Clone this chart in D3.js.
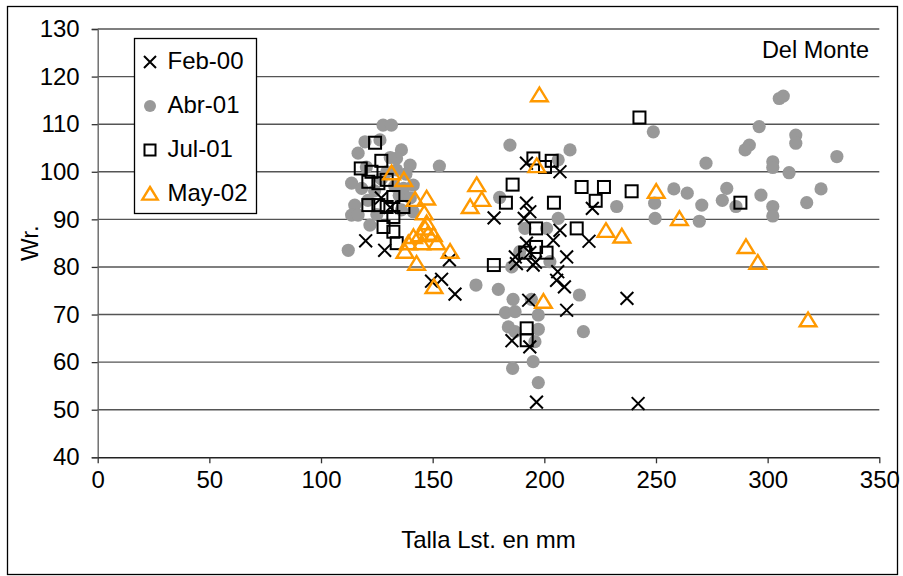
<!DOCTYPE html>
<html>
<head>
<meta charset="utf-8">
<script src="https://cdn.jsdelivr.net/npm/d3@7"></script>
<style>
  html, body { margin: 0; padding: 0; background: #fff; }
  svg { display: block; }
  text { font-family: "Liberation Sans", Arial, sans-serif; fill: #000; }
</style>
</head>
<body>
<svg id="chart" width="903" height="576"></svg>
<script>
// Wr. (relative weight) against standard length, four sampling dates at Del Monte
const feb00 = [
  [120,85.5],[128.5,83.5],[127,94.5],[131,92.5],[177.5,90.3],[157.5,81.5],[154,77.4],[160,74.3],[149.5,77],
  [192,101.8],[207,100],[192,93.4],[193.5,91.6],[191,90.2],[221.5,92.3],[207,87.7],[220,85.4],[204,85.6],
  [192,85],[210,82.1],[187,82.1],[196,81],[193.5,83],[206,79],[187.5,80.7],[195,80.4],[205.5,77.2],
  [209,75.8],[210,70.9],[237,73.4],[193,73],[185.5,64.5],[193.5,63.2],[196.5,51.6],[242,51.3]
];
const abr01 = [
  [127.8,109.8],[131.5,109.8],[119.7,106.3],[126.4,106.7],[116.6,103.9],[136,104.6],[133.8,102.8],[139.9,101.4],
  [153,101.2],[120.3,101],[133.8,100.4],[113.7,97.6],[141.3,97.2],[118.2,96.5],[115.1,93],[113.7,90.9],
  [141.3,91.6],[121.9,88.8],[112.2,83.5],[116.6,90.9],[124,96],[127,98.5],[129.5,100],[131,103],[133,97],
  [135,95],[137,96.5],[125,91],[121,94],[138,99.5],[140,94.5],[136,92],
  [180,94.6],[184.6,105.6],[211.5,104.6],[206.2,102.5],[232.4,92.7],[206.2,90.2],[191.3,88.1],[201,88.1],
  [189,83.2],[202.5,81.1],[185.4,80],[169.4,76.2],[179.4,75.3],[186,73.2],[194.2,73.2],[215.7,74.1],
  [182.6,70.4],[186.9,70.6],[197.3,69.9],[183.9,67.4],[186.9,66.4],[197.3,66.9],[195.8,64.3],[217.5,66.4],
  [195,60.1],[185.8,58.7],[197.3,55.7],
  [248.8,108.4],[272.4,101.8],[258,96.4],[264,95.5],[249.4,93.4],[270.5,93],[279.7,94],[249.6,90.2],
  [269.4,89.6],[305.2,115.4],[307,115.9],[296.2,109.5],[291.8,105.6],[289.9,104.6],[312.6,107.7],
  [312.6,106],[331,103.2],[302.3,102.1],[302.3,100.9],[309.6,99.8],[281.7,96.5],[297,95.1],[323.9,96.4],
  [317.5,93.5],[285.8,92.7],[302.3,92.7],[302.3,90.7]
];
const jul01 = [
  [124.2,106.1],[127,102.3],[117.8,100.7],[122.6,100],[121.2,97.9],[125.7,97.6],[129.4,98.3],[132.4,94.7],
  [121.2,93],[125.7,93],[129.4,92.6],[136.9,92.6],[128,88.4],[132.4,90.5],[132.4,87.4],[133.9,85],
  [177.4,80.4],[242.6,111.4],[195.1,102.8],[203.3,102.3],[200.3,101],[185.8,97.3],[216.7,96.8],[226.7,96.8],
  [239.1,95.9],[223,93.9],[182.8,93.5],[204.3,93.5],[196.3,88.1],[214.5,88.1],[196.3,84.2],[201,83],
  [191.4,83],[192.1,67.1],[192.1,64.6],[287.8,93.5]
];
const may02 = [
  [131.6,99.7],[137.1,98.3],[142.1,94.1],[147.3,94.4],[146.2,91.3],[147.3,89.2],[169.7,97.2],[172,94.1],
  [166.8,92.6],[141.4,86.3],[144.3,86.7],[148,87],[150.3,86.7],[139.1,85],[145,85],[151.8,85],
  [137.6,83.2],[157.8,83.2],[142.8,80.7],[146.6,88.1],[150.6,75.8],[197.8,116.1],[196.6,101.2],
  [227.6,87.6],[234.7,86.4],[199.6,72.7],[250.1,95.8],[260.5,90.1],[290.3,84.2],[295.6,80.9],[318.1,68.8]
];
const seriesNames = ["Feb-00", "Abr-01", "Jul-01", "May-02"];
const xTicks = [0, 50, 100, 150, 200, 250, 300, 350];
const yTicks = [40, 50, 60, 70, 80, 90, 100, 110, 120, 130];
const xTitle = "Talla Lst. en mm";
const yTitle = "Wr.";
const siteLabel = "Del Monte";

const svg = d3.select("#chart");
const plot = { left: 97.7, right: 879.3, top: 29, bottom: 457.3 };
const x = d3.scaleLinear().domain([0, 350]).range([plot.left, plot.right]);
const y = d3.scaleLinear().domain([40, 130]).range([plot.bottom, plot.top]);
const FONT = 24;
const ORANGE = "#ff9900";
const GREY = "#999999";

// outer chart frame
svg.append("rect")
  .attr("x", 7.5).attr("y", 6.5).attr("width", 890).attr("height", 568)
  .attr("fill", "#fff").attr("stroke", "#000").attr("stroke-width", 1.3);

// horizontal gridlines
svg.append("g").selectAll("line").data(yTicks.filter(d => d > 40)).join("line")
  .attr("x1", plot.left).attr("x2", plot.right)
  .attr("y1", d => y(d)).attr("y2", d => y(d))
  .attr("stroke", "#555").attr("stroke-width", 1.4);

// y axis
const yAxis = svg.append("g").attr("transform", `translate(${plot.left},0)`)
  .call(d3.axisLeft(y).tickValues(yTicks).tickSize(6).tickPadding(12));
yAxis.select(".domain").attr("stroke", "#666").attr("stroke-width", 1.4);
yAxis.selectAll(".tick line").attr("stroke", "#333").attr("stroke-width", 1.3);
yAxis.selectAll("text").attr("font-size", FONT).attr("font-family", "Liberation Sans, Arial, sans-serif").attr("fill", "#000");

// x axis
const xAxis = svg.append("g").attr("transform", `translate(0,${plot.bottom})`)
  .call(d3.axisBottom(x).tickValues(xTicks).tickSize(6).tickPadding(8).tickSizeOuter(0));
xAxis.select(".domain").attr("stroke", "#222").attr("stroke-width", 1.4);
xAxis.selectAll(".tick line").attr("stroke", "#333").attr("stroke-width", 1.3);
xAxis.selectAll("text").attr("font-size", FONT).attr("font-family", "Liberation Sans, Arial, sans-serif").attr("fill", "#000");

// axis titles
svg.append("text").attr("x", (plot.left + plot.right) / 2).attr("y", 548)
  .attr("text-anchor", "middle").attr("font-size", FONT).text(xTitle);
svg.append("text").attr("transform", `translate(38,${(plot.top + plot.bottom) / 2}) rotate(-90)`)
  .attr("text-anchor", "middle").attr("font-size", FONT).text(yTitle);

// site label
svg.append("text").attr("x", 869).attr("y", 58).attr("text-anchor", "end")
  .attr("font-size", 23.5).text(siteLabel);

// marker drawers
const cross = (g, s) => g.append("path")
  .attr("d", `M${-s},${-s}L${s},${s}M${-s},${s}L${s},${-s}`)
  .attr("stroke", "#000").attr("stroke-width", 2).attr("fill", "none");
const dot = (g, r) => g.append("circle").attr("r", r).attr("fill", GREY);
const square = (g, s) => g.append("rect").attr("x", -s).attr("y", -s)
  .attr("width", 2 * s).attr("height", 2 * s)
  .attr("fill", "none").attr("stroke", "#000").attr("stroke-width", 2);
const tri = (g, s) => g.append("path")
  .attr("d", `M0,${-s}L${s * 1.1},${s * 0.8}L${-s * 1.1},${s * 0.8}Z`)
  .attr("fill", "none").attr("stroke", ORANGE).attr("stroke-width", 2.4).attr("stroke-linejoin", "miter");

const layers = [
  { data: abr01, draw: g => dot(g, 6.6) },
  { data: feb00, draw: g => cross(g, 6.4) },
  { data: jul01, draw: g => square(g, 6) },
  { data: may02, draw: g => tri(g, 7.6) }
];
layers.forEach(l => {
  svg.append("g").selectAll("g").data(l.data).join("g")
    .attr("transform", d => `translate(${x(d[0])},${y(d[1])})`)
    .each(function () { l.draw(d3.select(this)); });
});

// legend
const legend = svg.append("g");
legend.append("rect").attr("x", 134.5).attr("y", 38.5).attr("width", 122).attr("height", 175)
  .attr("fill", "#fff").attr("stroke", "#000").attr("stroke-width", 1.3);
const legendDraw = [g => cross(g, 6), g => dot(g, 6), g => square(g, 5.5), g => tri(g, 7)];
seriesNames.forEach((name, i) => {
  const base = 68.5 + i * 44;
  const m = legend.append("g").attr("transform", `translate(150,${base - 6.5})`);
  legendDraw[i](m);
  legend.append("text").attr("x", 167.5).attr("y", base).attr("font-size", FONT).text(name);
});
</script>
</body>
</html>
